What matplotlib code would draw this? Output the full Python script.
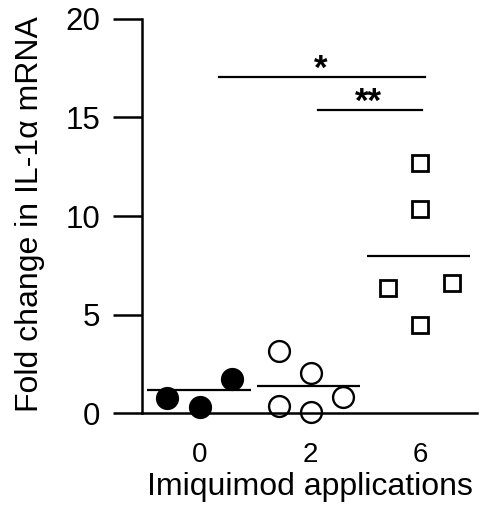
import matplotlib
matplotlib.use("Agg")
import matplotlib.pyplot as plt
import numpy as np

plt.rcParams['font.family'] = ['Liberation Sans', 'DejaVu Sans']

# data
groups = ["0", "2", "6"]
vals_0 = [0.78, 0.32, 1.73]
vals_2 = [3.16, 2.01, 0.36, 0.07, 0.80]
vals_6 = [12.7, 10.34, 6.33, 6.58, 4.47]
means = [1.15, 1.39, 7.97]

# horizontal scatter offsets within each group
off_0 = [-0.30, 0.0, 0.29]
off_2 = [-0.28, 0.01, -0.28, 0.01, 0.30]
off_6 = [0.0, 0.0, -0.29, 0.29, 0.0]

fig = plt.figure(figsize=(4.79, 5.11), dpi=100)
ax = fig.add_axes([142 / 479, 1 - 413 / 511, 335 / 479, 394 / 511])

ax.plot(np.array(off_0) + 0, vals_0, 'o', ms=15, mfc='black', mec='black', mew=1.7, clip_on=False)
ax.plot(np.array(off_2) + 1, vals_2, 'o', ms=15, mfc='white', mec='black', mew=1.7, clip_on=False)
ax.plot(np.array(off_6) + 2, vals_6, 's', ms=12, mfc='white', mec='black', mew=2.0, clip_on=False)

for i, m in enumerate(means):
    ax.plot([i - 0.48, i + 0.46], [m, m], color='black', lw=1.6, solid_capstyle='butt')

# significance bars
ax.plot([0.17, 2.05], [17.06, 17.06], color='black', lw=1.6)
ax.plot([1.075, 2.02], [15.37, 15.37], color='black', lw=1.6)
ax.text(1.1, 17.45, "*", ha='center', va='center', fontsize=25, fontweight='bold')
ax.text(1.53, 15.75, "**", ha='center', va='center', fontsize=25, fontweight='bold')

ax.set_xlim(-0.527, 2.52)
ax.set_ylim(0, 20)
ax.set_yticks([0, 5, 10, 15, 20])
ax.set_xticks([0, 1, 2])
ax.set_xticklabels(groups)

for s in ['top', 'right']:
    ax.spines[s].set_visible(False)
ax.spines['left'].set_linewidth(1.8)
ax.spines['bottom'].set_linewidth(1.8)

ax.tick_params(axis='y', length=21, width=1.8, pad=9, labelsize=22.5)
ax.tick_params(axis='x', length=0, pad=21, labelsize=20)

ax.set_ylabel("Fold change in IL-1\u03b1 mRNA", fontsize=23, va='center')
ax.yaxis.set_label_coords(-0.334, 0.505)
ax.set_xlabel("Imiquimod applications", fontsize=23, va='baseline')
ax.xaxis.set_label_coords(0.5015, -0.208)

fig.savefig("out.png", dpi=100)
